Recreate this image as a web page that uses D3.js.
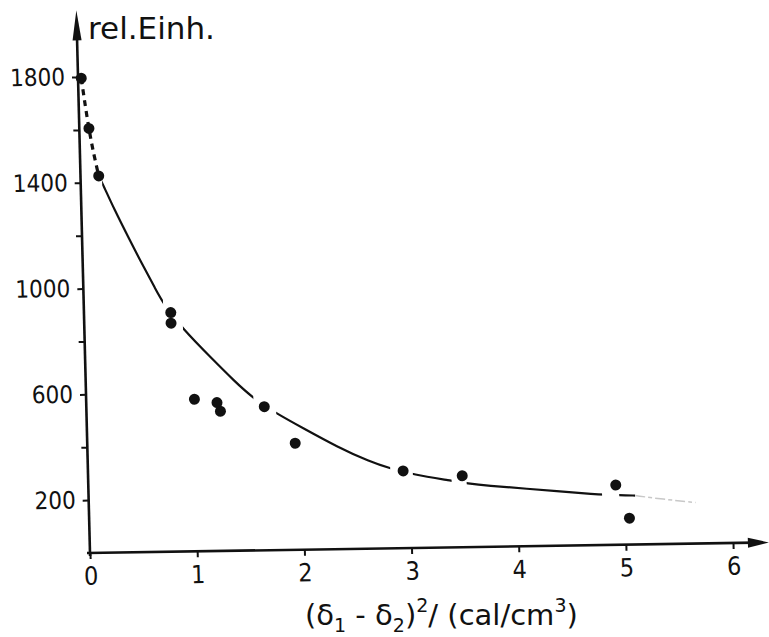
<!DOCTYPE html>
<html>
<head>
<meta charset="utf-8">
<script src="https://cdn.jsdelivr.net/npm/d3@7"></script>
<style>
  html, body { margin: 0; padding: 0; background: #fff; }
  svg { display: block; }
  text { fill: #111; }
</style>
</head>
<body>
<svg id="chart" width="769" height="637"></svg>
<script>
// ---- data ----
const xTicks = [0, 1, 2, 3, 4, 5, 6];
const yTicks = [200, 400, 600, 800, 1000, 1200, 1400, 1600, 1800];
const yTickLabels = [200, 600, 1000, 1400, 1800];

const pointsX = [0.03, 0.09, 0.17, 0.81, 0.81, 1.01, 1.22, 1.25, 1.66, 1.94, 2.94, 3.49, 4.92, 5.04];
const pointsY = [1795, 1605, 1425, 904, 864, 575, 561, 528, 543, 403, 292, 270, 226, 100];

// dashed start of the fitted curve
const dashX = [0.03, 0.09, 0.17];
const dashY = [1795, 1605, 1425];

// solid fitted curve (hand-drawn in the original)
const curveX = [0.17, 0.21, 0.31, 0.43, 0.55, 0.67, 0.74, 0.92, 1.18, 1.39, 1.56, 1.77, 2.02, 2.33, 2.63, 2.82, 3.03, 3.39, 3.53, 3.75, 4.00, 4.79, 4.95, 5.10];
const curveY = [1425, 1390, 1295, 1193, 1092, 997, 940, 840, 729, 640, 575, 517, 459, 387, 329, 302, 278, 252, 241, 230, 221, 189, 188, 185];

// faint grey tail of the curve
const tailX = [5.10, 5.35, 5.66];
const tailY = [185, 170, 155];

// x-intervals where the solid curve is actually drawn (it is interrupted near points)
const solidFrom = [0.20, 0.92, 1.77, 3.03, 3.53, 4.95];
const solidTo   = [0.74, 1.56, 2.82, 3.39, 4.79, 5.10];

// ---- drawing ----
const svg = d3.select("#chart");
const ink = "#111";

// the scanned figure is slightly sheared: use an affine frame
const g = svg.append("g")
  .attr("transform", "matrix(1,-0.01555,0.0252,1,90,553)");

const x = d3.scaleLinear().domain([0, 6]).range([0, 643]);
const y = d3.scaleLinear().domain([0, 1800]).range([0, -476]);

// axes lines
g.append("line").attr("x1", -3).attr("y1", 0).attr("x2", x(6.2)).attr("y2", 0)
  .attr("stroke", ink).attr("stroke-width", 2.6);
g.append("line").attr("x1", 0).attr("y1", 3).attr("x2", 0).attr("y2", y(1980))
  .attr("stroke", ink).attr("stroke-width", 2.6);

// arrow heads
const xTip = x(6.335), yTip = y(2052);
g.append("path")
  .attr("d", `M${xTip},0 L${xTip - 21},-5 L${xTip - 21},5 Z`)
  .attr("fill", ink);
g.append("path")
  .attr("d", `M0,${yTip} L-4.5,${yTip + 30} L4.5,${yTip + 30} Z`)
  .attr("fill", ink);

// y axis ticks
const yAxis = d3.axisLeft(y).tickValues(yTicks).tickSize(6).tickPadding(7)
  .tickFormat(d => yTickLabels.includes(d) ? d : "");
const ya = g.append("g").call(yAxis);
ya.select(".domain").remove();
ya.selectAll(".tick line").attr("stroke", ink).attr("stroke-width", 2);
ya.selectAll(".tick text")
  .attr("font-family", "'DejaVu Sans Condensed', 'DejaVu Sans', sans-serif")
  .attr("font-size", 24).attr("fill", ink);

// x axis ticks
const xAxis = d3.axisBottom(x).tickValues(xTicks).tickSize(6).tickPadding(8)
  .tickFormat(d3.format("d"));
const xa = g.append("g").call(xAxis);
xa.select(".domain").remove();
xa.selectAll(".tick line").attr("stroke", ink).attr("stroke-width", 2);
xa.selectAll(".tick text")
  .attr("font-family", "'DejaVu Sans Condensed', 'DejaVu Sans', sans-serif")
  .attr("font-size", 25).attr("fill", ink);

// clip for the interrupted solid curve
const clip = svg.append("defs").append("clipPath").attr("id", "solidClip");
clip.selectAll("rect").data(solidFrom.map((a, i) => [a, solidTo[i]])).join("rect")
  .attr("x", d => x(d[0])).attr("width", d => x(d[1]) - x(d[0]))
  .attr("y", y(2100)).attr("height", y(0) - y(2100) + 20);

const smooth = d3.line().x(d => x(d[0])).y(d => y(d[1])).curve(d3.curveBasis);

g.append("path")
  .datum(curveX.map((v, i) => [v, curveY[i]]))
  .attr("d", smooth)
  .attr("fill", "none").attr("stroke", ink).attr("stroke-width", 2.2)
  .attr("clip-path", "url(#solidClip)");

g.append("path")
  .datum(dashX.map((v, i) => [v, dashY[i]]))
  .attr("d", d3.line().x(d => x(d[0])).y(d => y(d[1])).curve(d3.curveMonotoneX))
  .attr("fill", "none").attr("stroke", ink).attr("stroke-width", 3.2)
  .attr("stroke-dasharray", "6,5");

g.append("path")
  .datum(tailX.map((v, i) => [v, tailY[i]]))
  .attr("d", smooth)
  .attr("fill", "none").attr("stroke", "#c8c8c8").attr("stroke-width", 1.5)
  .attr("stroke-dasharray", "10,3,4,3");

// data points
g.selectAll("circle.pt").data(pointsX.map((v, i) => [v, pointsY[i]])).join("circle")
  .attr("class", "pt")
  .attr("cx", d => x(d[0])).attr("cy", d => y(d[1]))
  .attr("r", 5.5).attr("fill", ink);

// axis titles
svg.append("text")
  .attr("x", 88).attr("y", 39)
  .attr("font-family", "'DejaVu Sans', sans-serif")
  .attr("font-size", 31).attr("fill", ink)
  .text("rel.Einh.");

const xl = svg.append("text")
  .attr("x", 305).attr("y", 625)
  .attr("font-family", "'DejaVu Sans', sans-serif")
  .attr("font-size", 29).attr("fill", ink);
xl.append("tspan").text("(δ");
xl.append("tspan").attr("font-size", 19).attr("dy", 7).text("1");
xl.append("tspan").attr("dy", -7).text(" - δ");
xl.append("tspan").attr("font-size", 19).attr("dy", 7).text("2");
xl.append("tspan").attr("dy", -7).text(")");
xl.append("tspan").attr("font-size", 19).attr("dy", -13).text("2");
xl.append("tspan").attr("dy", 13).text("/ (cal/cm");
xl.append("tspan").attr("font-size", 19).attr("dy", -13).text("3");
xl.append("tspan").attr("dy", 13).text(")");
</script>
</body>
</html>
